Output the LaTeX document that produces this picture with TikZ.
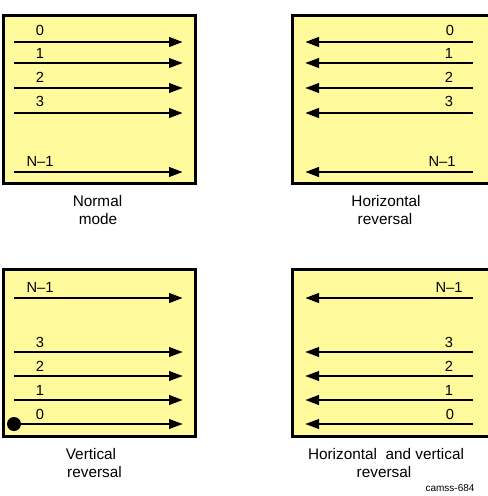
\documentclass[tikz,border=0pt]{standalone}
\usepackage{fontspec}
\setmainfont{Liberation Sans}
\usetikzlibrary{arrows.meta}
\definecolor{boxfill}{RGB}{255,250,155}
\tikzset{
  panel/.style={draw=black, line width=2.25pt, fill=boxfill},
  arrthick/.style={line width=2.2pt, -{Triangle[length=10.5pt,width=7pt]}},
  arrthin/.style={line width=1.9pt, -{Triangle[length=10.5pt,width=7pt]}},
  lbl/.style={inner sep=0pt, anchor=base, font=\fontsize{11}{12}\selectfont},
  captext/.style={inner sep=0pt, anchor=base, font=\fontsize{11.5}{13}\selectfont},
  tagtext/.style={inner sep=0pt, anchor=base, font=\fontsize{7.5}{9}\selectfont}
}
\begin{document}
\begin{tikzpicture}[x=0.75pt,y=-0.75pt]
\useasboundingbox (0,0) rectangle (487,496);
% panels
\draw[panel] (3.5,15.5) rectangle (195.5,183.5);
\draw[panel] (292.5,15.5) rectangle (492,183.5);
\draw[panel] (3.5,269) rectangle (195.5,436.5);
\draw[panel] (292.5,269) rectangle (492,436.5);

% ---- Panel 1: normal mode
\foreach \n/\y/\b/\t/\s in {a0/42/36/0/arrthick, a1/63/58/1/arrthin, a2/88/82/2/arrthin, a3/113/106/3/arrthick, aN/172/166/N--1/arrthick}{
  \coordinate (\n s) at (14,\y);
  \coordinate (\n e) at (183,\y);
  \draw[\s] (\n s) -- (\n e);
  \node[lbl] (\n l) at (40,\b) {\t};
}
\node[captext] (c1a) at (97.5,206) {Normal};
\node[captext] (c1b) at (98,224) {mode};

% ---- Panel 2: horizontal reversal
\foreach \n/\y/\b/\t/\x/\s in {b0/42/36/0/450/arrthick, b1/63/58/1/449/arrthin, b2/88/82/2/449/arrthin, b3/113/106/3/449/arrthick, bN/172/166/N--1/442/arrthick}{
  \coordinate (\n s) at (473,\y);
  \coordinate (\n e) at (305,\y);
  \draw[\s] (\n s) -- (\n e);
  \node[lbl] (\n l) at (\x,\b) {\t};
}
\node[captext] (c2a) at (386,206) {Horizontal};
\node[captext] (c2b) at (385,224) {reversal};

% ---- Panel 3: vertical reversal
\foreach \n/\y/\b/\t/\s in {cN/298/292/N--1/arrthick, c3/352/347/3/arrthin, c2/376/371/2/arrthin, c1/400/395/1/arrthick, c0/424/419/0/arrthin}{
  \coordinate (\n s) at (14,\y);
  \coordinate (\n e) at (183,\y);
  \draw[\s] (\n s) -- (\n e);
  \node[lbl] (\n l) at (40,\b) {\t};
}
\fill (c0s) circle [radius=5.25pt];
\node[captext] (c3a) at (91,459) {Vertical};
\node[captext] (c3b) at (94.5,477) {reversal};

% ---- Panel 4: horizontal and vertical reversal
\foreach \n/\y/\b/\t/\x/\s in {dN/298/292/N--1/449/arrthick, d3/352/347/3/449/arrthin, d2/376/371/2/449/arrthin, d1/400/395/1/449/arrthick, d0/424/419/0/450/arrthin}{
  \coordinate (\n s) at (473,\y);
  \coordinate (\n e) at (305,\y);
  \draw[\s] (\n s) -- (\n e);
  \node[lbl] (\n l) at (\x,\b) {\t};
}
\node[captext] (c4a) at (386,459) {Horizontal\ \ and vertical};
\node[captext] (c4b) at (384,477) {reversal};

\node[tagtext] (id) at (450,491) {camss-684};
\end{tikzpicture}
\end{document}
